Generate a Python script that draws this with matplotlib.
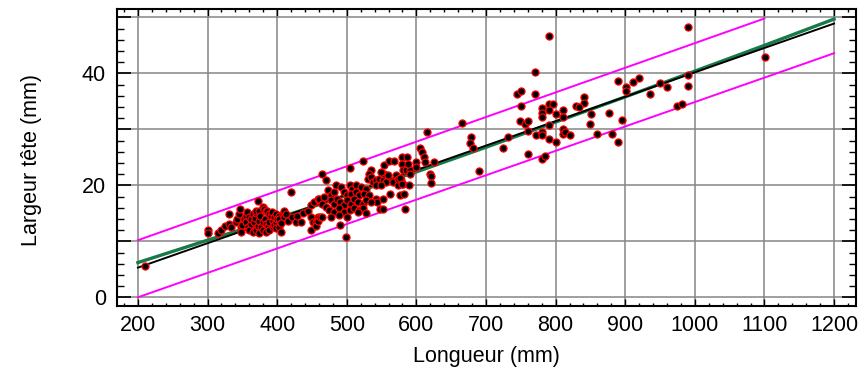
import matplotlib
matplotlib.use("Agg")
import matplotlib.pyplot as plt
from matplotlib.ticker import MultipleLocator, FuncFormatter

plt.rcParams['font.family'] = ['Liberation Sans', 'DejaVu Sans']

# Observations: body length (mm) and head width (mm)
longueur = [
    210,
    300, 300, 315, 320, 325, 331, 331, 334, 341, 343, 345, 347, 348, 348, 350,
    353, 355, 355, 357, 358, 360, 360, 362, 363, 365, 365, 367, 368, 370, 370,
    370, 372, 372, 374, 374, 374, 376, 377, 379, 379, 379, 381, 382, 384, 384,
    384, 386, 387, 389, 389, 389, 391, 392, 394, 394, 395, 396, 398, 398, 398,
    400, 403, 403, 403, 405, 406, 408, 410, 410, 413, 415, 420, 422, 427, 429,
    434, 437, 444, 449, 449, 449, 452, 453, 456, 456, 458, 458, 459, 460, 461,
    465, 470, 473, 477, 482, 484, 492, 504, 508, 513, 520, 528,
    496, 501, 506, 513, 518, 525, 532,
    460, 468, 465, 470,
    477, 482, 486, 491, 496, 501, 506, 511, 516, 523, 528,
    475, 482, 489, 496, 504, 511, 518, 523, 528,
    465, 477, 489, 501, 516,
    491, 499, 505, 524, 535, 532,
    530, 535, 537, 542, 547, 552, 556, 566, 578, 581,
    542, 549, 573,
    554, 560, 568, 580, 579, 581,
    554, 559, 571, 573, 576, 579, 549,
    585, 591, 591, 590,
    542, 544, 552, 535,
    548, 552, 562, 576, 582, 583,
    587, 588, 600, 599, 605, 608, 611, 613, 615, 625, 620, 621, 621,
    665, 679, 677, 681, 690, 725, 731,
    745, 750, 770, 750, 770, 790,
    781, 781, 781, 790, 796, 801, 791,
    749, 756, 761, 761,
    772, 780, 781, 791, 790, 801,
    761, 780, 785,
    811, 810, 841, 841, 830, 833, 851, 876, 850, 895,
    810, 810, 814, 821, 860, 881, 890,
    890, 901, 901, 911, 920, 936, 950, 960, 990, 990, 975, 981, 990, 1101,
]
largeur_tete = [
    5.6,
    12.1, 11.4, 11.5, 12.0, 12.8, 14.9, 13.1, 12.5, 13.4, 14.0, 14.8, 15.8, 12.5, 11.7, 13.0,
    14.0, 14.6, 13.4, 15.2, 12.5, 14.3, 12.0, 13.1, 14.0, 14.9, 11.7, 13.4, 14.2, 15.0, 15.5,
    12.1, 17.2, 12.8, 15.4, 13.7, 11.4, 14.5, 12.6, 16.1, 13.4, 12.0, 15.8, 14.0, 15.5, 13.1,
    11.7, 15.5, 12.8, 14.9, 13.4, 12.1, 14.6, 15.2, 13.7, 12.5, 13.0, 14.3, 14.9, 13.4, 12.3,
    14.0, 14.6, 13.9, 12.5, 11.7, 13.2, 14.8, 15.5, 14.3, 14.9, 13.7, 18.8, 14.4, 13.4, 14.6,
    13.4, 15.0, 15.5, 16.4, 14.3, 12.0, 13.4, 17.0, 13.4, 12.8, 14.3, 13.6, 17.6, 17.3, 14.3,
    22.0, 21.0, 19.1, 18.2, 18.8, 20.0, 19.7, 20.0, 19.4, 20.0, 19.7, 19.4,
    18.8, 18.2, 18.5, 18.8, 18.2, 18.5, 18.2,
    17.6, 17.9, 16.7, 16.2,
    17.3, 16.7, 17.6, 17.0, 16.4, 17.3, 16.7, 17.6, 17.0, 16.7, 17.3,
    15.6, 15.3, 15.9, 15.3, 15.6, 15.9, 15.6, 15.9, 15.0,
    14.4, 14.4, 14.7, 14.4, 15.3,
    12.9, 10.8, 23.1, 24.3, 22.8, 22.1,
    21.2, 21.5, 20.6, 20.9, 21.2, 20.9, 20.6, 20.6, 20.9, 20.3,
    20.1, 20.0, 20.0,
    23.6, 24.4, 24.4, 25.0, 23.9, 22.8,
    22.1, 21.8, 21.8, 21.1, 21.3, 20.2, 22.3,
    22.7, 22.7, 22.0, 20.1,
    17.6, 17.0, 17.6, 17.0,
    15.8, 15.8, 18.5, 18.2, 18.4, 15.8,
    25.1, 23.9, 24.1, 23.2, 26.6, 25.9, 25.0, 24.1, 29.6, 24.1, 22.0, 21.6, 20.5,
    31.2, 28.6, 27.5, 26.6, 22.6, 26.6, 28.6,
    36.3, 36.8, 36.4, 34.2, 40.2, 46.7,
    33.9, 33.0, 32.2, 34.5, 34.5, 32.8, 33.5,
    31.5, 30.9, 31.5, 29.7,
    29.0, 29.6, 29.0, 30.8, 28.2, 27.8,
    25.6, 24.7, 25.3,
    33.4, 32.2, 35.8, 34.7, 34.2, 34.0, 32.8, 33.0, 31.0, 31.7,
    30.0, 29.1, 29.6, 29.0, 29.2, 29.1, 27.8,
    38.7, 37.5, 36.9, 38.5, 39.2, 36.3, 38.3, 37.5, 39.7, 37.8, 34.2, 34.5, 48.2, 43.0,
]

# Linear regression line
reg_x = [200, 1200]
reg_y = [5.3, 48.9]

# Smoothed fit
lisse_x = [200, 300, 400, 500, 600, 700, 800, 900, 1000, 1100, 1200]
lisse_y = [6.2, 10.2, 14.1, 18.2, 22.4, 26.8, 31.3, 35.8, 40.4, 45.0, 49.7]

# Prediction band limits
pred_haut_x = [200, 1100]
pred_haut_y = [10.2, 49.8]
pred_bas_x = [200, 1200]
pred_bas_y = [0.0, 43.6]

fig = plt.figure(figsize=(8.63, 3.79), dpi=100)
ax = fig.add_axes([0.1356, 0.1934, 0.8559, 0.7829])

ax.set_xlim(170, 1231)
ax.set_ylim(-1.5, 51.5)

ax.grid(True, which='major', color='#858585', linewidth=1.1, zorder=0)
ax.set_axisbelow(True)

ax.plot(pred_haut_x, pred_haut_y, color='#ff00ff', linewidth=1.4, zorder=2)
ax.plot(pred_bas_x, pred_bas_y, color='#ff00ff', linewidth=1.4, zorder=2)
ax.plot(lisse_x, lisse_y, color='#177a48', linewidth=2.4, zorder=3)
ax.plot(reg_x, reg_y, color='black', linewidth=1.4, zorder=4)

ax.plot(longueur, largeur_tete, linestyle='none', marker='o', markersize=5.1,
        markerfacecolor='black', markeredgecolor='#ff0000', markeredgewidth=0.9,
        zorder=5)

ax.xaxis.set_major_locator(MultipleLocator(100))
ax.xaxis.set_minor_locator(MultipleLocator(20))
ax.yaxis.set_major_locator(MultipleLocator(10))
ax.yaxis.set_minor_locator(MultipleLocator(2))
ax.yaxis.set_major_formatter(FuncFormatter(
    lambda v, p: f"{int(round(v))}" if round(v) % 20 == 0 else ""))

ax.tick_params(axis='x', which='major', direction='in', length=5, width=1.0,
               top=True, bottom=True, labelsize=15.5, pad=7)
ax.tick_params(axis='x', which='minor', direction='in', length=2.5, width=1.0,
               top=True, bottom=True)
ax.tick_params(axis='y', which='major', direction='in', length=10, width=1.2,
               left=True, right=True, labelsize=15.5, pad=8)
ax.tick_params(axis='y', which='minor', direction='in', length=5, width=1.0,
               left=True, right=True)

for s in ax.spines.values():
    s.set_linewidth(1.5)
    s.set_color('black')

ax.set_xlabel("Longueur (mm)", fontsize=15.5, labelpad=7)
ax.set_ylabel("Largeur tête (mm)", fontsize=15.5)
ax.yaxis.set_label_coords(-0.101, 0.49)

fig.savefig("out.png", dpi=100)
